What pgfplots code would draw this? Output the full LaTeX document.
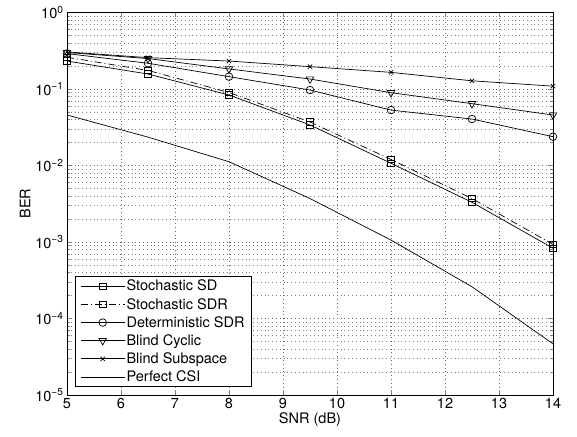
\documentclass[border=0pt]{standalone}
\usepackage{pgfplots}
\pgfplotsset{compat=1.18}
\usepackage{fontspec}
\setmainfont{TeX Gyre Heros}
\begin{document}
\begin{tikzpicture}
\useasboundingbox (-67pt,-41pt) rectangle (510pt,395pt);
\begin{semilogyaxis}[
  at={(0pt,0pt)}, anchor=south west,
  scale only axis,
  width=486pt, height=382.5pt,
  xmin=5, xmax=14, ymin=1e-5, ymax=1,
  xtick={5,6,...,14},
  ytick={1e-5,1e-4,1e-3,1e-2,1e-1,1},
  yticklabels={10\textsuperscript{−5},10\textsuperscript{−4},10\textsuperscript{−3},10\textsuperscript{−2},10\textsuperscript{−1},10\textsuperscript{0}},
  /pgf/number format/assume math mode=true,
  tick label style={font=\fontsize{14.5}{16}\selectfont},
  label style={font=\fontsize{14.5}{16}\selectfont},
  xlabel={SNR (dB)}, ylabel={BER},
  xlabel style={yshift=3pt},
  ylabel style={yshift=-2pt},
  tick align=inside,
  major tick length=5pt, minor tick length=3pt,
  xmajorgrids, ymajorgrids, yminorgrids,
  major grid style={dash pattern=on 0.8pt off 3pt, black!60, line width=0.5pt},
  minor grid style={dash pattern=on 0.8pt off 3pt, black!50, line width=0.5pt},
  axis line style={line width=0.9pt},
  every axis plot/.append style={black, line width=0.7pt},
  legend image code/.code={\draw[mark repeat=2,mark phase=2] plot coordinates {(0pt,0pt) (22pt,0pt) (44pt,0pt)};},
  legend cell align=left,
  legend style={at={(0.0165,0.021)}, anchor=south west, draw=black, line width=0.7pt,
    font=\fontsize{14.5}{15}\selectfont, row sep=2.8pt, inner xsep=5pt, inner ysep=2pt,
    nodes={inner sep=1.5pt}},
]
\addplot[mark=square, mark size=3.2pt, mark options={solid}] coordinates {
(5,0.232) (6.5,0.157) (8,0.0835) (9.5,0.0339) (11,0.0107) (12.5,0.0033) (14,0.00083)};
\addlegendentry{Stochastic SD}
\addplot[mark=square, mark size=3.2pt, dash pattern=on 7pt off 3pt on 1pt off 3pt, mark options={solid}] coordinates {
(5,0.26) (6.5,0.175) (8,0.09) (9.5,0.037) (11,0.012) (12.5,0.0037) (14,0.00093)};
\addlegendentry{Stochastic SDR}
\addplot[mark=o, mark size=3.8pt] coordinates {
(5,0.29) (6.5,0.217) (8,0.145) (9.5,0.097) (11,0.053) (12.5,0.0405) (14,0.0238)};
\addlegendentry{Deterministic SDR}
\addplot[mark=triangle, mark size=4.3pt, mark options={rotate=180}] coordinates {
(5,0.30) (6.5,0.25) (8,0.183) (9.5,0.135) (11,0.0895) (12.5,0.0643) (14,0.0457)};
\addlegendentry{Blind Cyclic}
\addplot[mark=x, mark size=3pt] coordinates {
(5,0.305) (6.5,0.257) (8,0.232) (9.5,0.196) (11,0.165) (12.5,0.128) (14,0.109)};
\addlegendentry{Blind Subspace}
\addplot[no marks] coordinates {
(5,0.0457) (6.5,0.0235) (8,0.0112) (9.5,0.0037) (11,0.00106) (12.5,0.00026) (14,0.0000466)};
\addlegendentry{Perfect CSI}
\end{semilogyaxis}
\end{tikzpicture}
\end{document}
